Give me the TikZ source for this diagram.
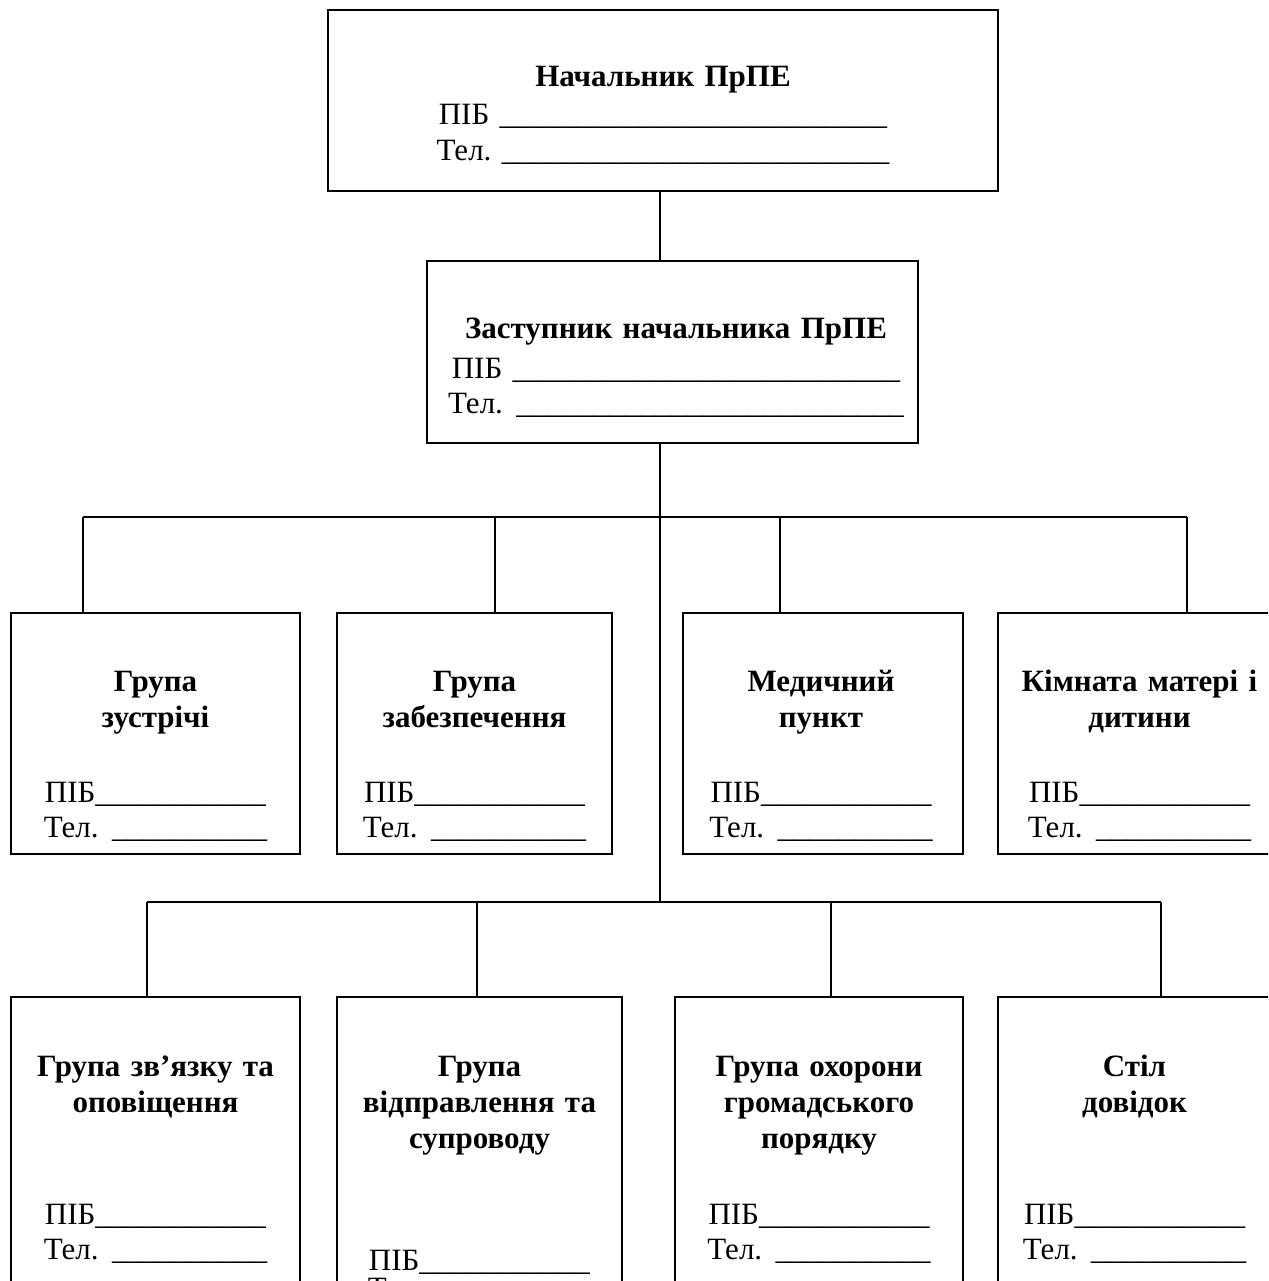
\documentclass[tikz,border=0pt]{standalone}
\usepackage{fontspec}
\setmainfont{Liberation Serif}
\frenchspacing
\newcommand{\ulA}{\_\_\_\_\_\_\_\_\_\_\_\_\_\_\_\_\_\_\_\_\_\_\_\_\_}
\newcommand{\ulB}{\_\_\_\_\_\_\_\_\_\_\_}
\newcommand{\ulC}{\_\_\_\_\_\_\_\_\_\_}
\begin{document}
\begin{tikzpicture}[x=1pt,y=-1pt,
  boxst/.style={draw, line width=1.6pt, inner sep=0pt, outer sep=0pt},
  txt/.style={text width=#1, align=center, anchor=base, inner sep=0pt,
              font=\fontsize{31}{36}\selectfont},
  wire/.style={line width=1.6pt}]
\useasboundingbox (0,0) rectangle (1268,1281);
\clip (0,0) rectangle (1268,1281);
\fill[white] (0,0) rectangle (1268,1281);

% top
\node[boxst, minimum width=670, minimum height=181] (chief) at (663,100.5) {};
\node[txt=640] (chieft) at (663,87) {\textbf{Начальник ПрПЕ}\\[2pt]ПІБ \ulA\\Тел. \ulA};

\node[boxst, minimum width=491, minimum height=182] (dep) at (672.5,352) {};
\node[txt=480] (dept) at (676,338) {\textbf{Заступник начальника ПрПЕ}\\[4pt]ПІБ \ulA\\[-1pt]Тел.\hspace{3pt} \ulA};

% row 1
\node[boxst, minimum width=289, minimum height=241] (b1) at (155.5,733.5) {};
\node[boxst, minimum width=275, minimum height=241] (b2) at (474.5,733.5) {};
\node[boxst, minimum width=280, minimum height=241] (b3) at (823,733.5) {};
\node[boxst, minimum width=283, minimum height=241] (b4) at (1139.5,733.5) {};
\node[txt=300] (b1t) at (155.5,691) {\textbf{Група}\\\textbf{зустрічі}\\[39pt]ПІБ\ulB\\[-1pt]Тел.\hspace{3pt} \ulC};
\node[txt=300] (b2t) at (474.5,691) {\textbf{Група}\\\textbf{забезпечення}\\[39pt]ПІБ\ulB\\[-1pt]Тел.\hspace{3pt} \ulC};
\node[txt=300] (b3t) at (821,691) {\textbf{Медичний}\\\textbf{пункт}\\[39pt]ПІБ\ulB\\[-1pt]Тел.\hspace{3pt} \ulC};
\node[txt=300] (b4t) at (1139.5,691) {\textbf{Кімната матері і}\\\textbf{дитини}\\[39pt]ПІБ\ulB\\[-1pt]Тел.\hspace{3pt} \ulC};

% row 2
\node[boxst, minimum width=289, minimum height=403] (b5) at (155.5,1198.5) {};
\node[boxst, minimum width=285, minimum height=403] (b6) at (479.5,1198.5) {};
\node[boxst, minimum width=288, minimum height=403] (b7) at (819,1198.5) {};
\node[boxst, minimum width=273, minimum height=403] (b8) at (1134.5,1198.5) {};
\node[txt=300] (b5t) at (155.5,1076) {\textbf{Група зв’язку та}\\\textbf{оповіщення}\\[76pt]ПІБ\ulB\\[-1pt]Тел.\hspace{3pt} \ulC};
\node[txt=300] (b6t) at (479.5,1076) {\textbf{Група}\\\textbf{відправлення та}\\\textbf{супроводу}\\[86pt]ПІБ\ulB\\[-8pt]Тел.\hspace{3pt} \ulC};
\node[txt=300] (b7t) at (819,1076) {\textbf{Група охорони}\\\textbf{громадського}\\\textbf{порядку}\\[40pt]ПІБ\ulB\\[-1pt]Тел.\hspace{3pt} \ulC};
\node[txt=300] (b8t) at (1134.5,1076) {\textbf{Стіл}\\\textbf{довідок}\\[76pt]ПІБ\ulB\\[-1pt]Тел.\hspace{3pt} \ulC};

% connectors
\coordinate (j1) at (660,517);
\coordinate (j2) at (660,902);
\coordinate (d1) at (83,517);
\coordinate (d2) at (495,517);
\coordinate (d3) at (780,517);
\coordinate (d4) at (1187,517);
\coordinate (e1) at (147,902);
\coordinate (e2) at (477,902);
\coordinate (e3) at (831,902);
\coordinate (e4) at (1161,902);

\draw[wire] (chief.south -| j1) -- (dep.north -| j1);
\draw[wire] (dep.south -| j1) -- (j2);
\draw[wire] (d1) -- (d4);
\draw[wire] (e1) -- (e4);
\draw[wire] (d1) -- (d1 |- b1.north);
\draw[wire] (d2) -- (d2 |- b2.north);
\draw[wire] (d3) -- (d3 |- b3.north);
\draw[wire] (d4) -- (d4 |- b4.north);
\draw[wire] (e1) -- (e1 |- b5.north);
\draw[wire] (e2) -- (e2 |- b6.north);
\draw[wire] (e3) -- (e3 |- b7.north);
\draw[wire] (e4) -- (e4 |- b8.north);
\end{tikzpicture}
\end{document}
